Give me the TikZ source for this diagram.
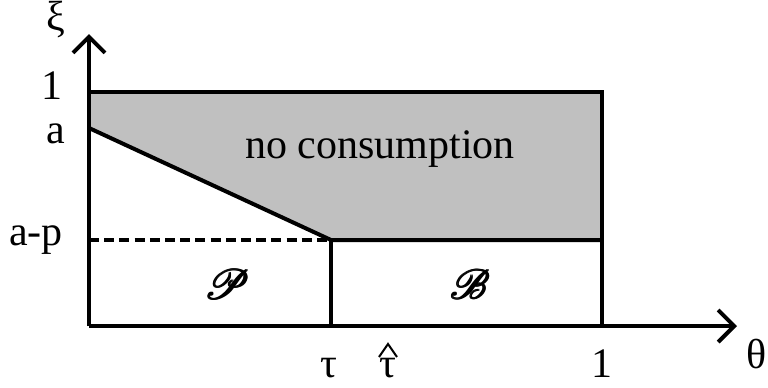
\documentclass[tikz,border=0pt]{standalone}
\usepackage{fontspec}
\setmainfont{Liberation Serif}
\usepackage{mathrsfs}
\usetikzlibrary{arrows.meta}
\definecolor{regiongray}{RGB}{192,192,192}
\newcommand{\fakebf}[1]{\rlap{#1}\rlap{\kern0.6pt#1}\rlap{\raisebox{0.5pt}{#1}}\kern0.6pt\raisebox{0.5pt}{#1}}
\tikzset{
  axis/.style={line width=2pt,-{Straight Barb[length=8pt,width=16pt,line width=2pt]}},
  edge/.style={line width=2pt},
  lbl/.style={inner sep=0pt,font=\fontsize{21}{25}\selectfont}
}
\begin{document}
\begin{tikzpicture}[x=0.5pt,y=-0.5pt]
\useasboundingbox (0,0) rectangle (768,387);
% named corner points
\coordinate (O) at (89,326);
\coordinate (Yend) at (89,34);
\coordinate (Xend) at (737,326);
\coordinate (TL) at (89,92);
\coordinate (TR) at (602,92);
\coordinate (A) at (89,128);
\coordinate (K) at (331,240);
\coordinate (KL) at (89,240);
\coordinate (R) at (602,240);
\coordinate (KB) at (331,326);
\coordinate (RB) at (602,326);
% shaded region
\fill[regiongray] (TL) -- (TR) -- (R) -- (K) -- (A) -- cycle;
% boundaries
\draw[edge] (TL) -- (TR) -- (RB);
\draw[edge] (A) -- (K) -- (R);
\draw[edge] (K) -- (KB);
\draw[edge,dash pattern=on 5pt off 2.6pt] (KL) -- (K);
% axes
\draw[axis] (O) -- (Yend);
\draw[axis] (O) -- (Xend);
% labels
\node[lbl] (xi) at (56,20) {ξ};
\node[lbl] (one) at (52,86) {1};
\node[lbl] (a) at (56,134) {a};
\node[lbl,anchor=base] (ap) at (36,245) {a-p};
\node[lbl] (nc) at (380,149) {no consumption};
\node[lbl] (P) at (227,284) {\fakebf{$\mathscr{P}$}};
\node[lbl] (B) at (470,284) {\fakebf{$\mathscr{B}$}};
\node[lbl,anchor=base] (tau) at (329,377) {τ};
\node[lbl,anchor=base] (tauh) at (388,377) {τ};
\draw[line width=1pt] (379,357) -- (388,344) -- (397,357);
\node[lbl,anchor=base] (onex) at (602,377) {1};
\node[lbl] (theta) at (757,354) {θ};
\end{tikzpicture}
\end{document}
